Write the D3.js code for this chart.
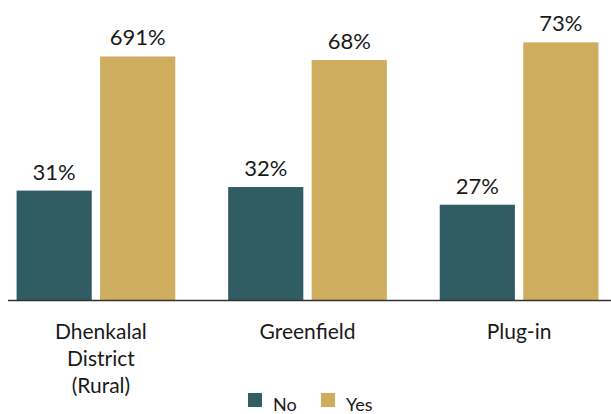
<!DOCTYPE html>
<html>
<head>
<meta charset="utf-8">
<script src="https://cdn.jsdelivr.net/npm/d3@7"></script>
<style>
  html, body { margin: 0; padding: 0; background: #fff; }
  svg { display: block; font-family: Lato, "Open Sans", sans-serif; }
</style>
</head>
<body>
<svg id="chart" width="611" height="414"></svg>
<script>
// Survey answers per site, in percent
const categories = [["Dhenkalal", "District", "(Rural)"], ["Greenfield"], ["Plug-in"]];
const seriesNames = ["No", "Yes"];
const noValues = [31, 32, 27];
const yesValues = [69, 68, 73];
const noLabels = ["31%", "32%", "27%"];
const yesLabels = ["691%", "68%", "73%"];
const colors = ["#305c63", "#cfad5e"];

const svg = d3.select("#chart");
const baseline = 300;

const x0 = d3.scaleBand()
  .domain(d3.range(categories.length))
  .range([6, 609])
  .paddingInner(0.25)
  .paddingOuter(0.05);

const x1 = d3.scaleBand()
  .domain(seriesNames)
  .range([0, x0.bandwidth()])
  .paddingInner(0.1);

const y = d3.scaleLinear().domain([0, 85]).range([baseline, 0]);

const color = d3.scaleOrdinal().domain(seriesNames).range(colors);

const rows = categories.map((c, i) => ({
  idx: i,
  bars: [
    { key: "No", value: noValues[i], label: noLabels[i] },
    { key: "Yes", value: yesValues[i], label: yesLabels[i] }
  ]
}));

const groups = svg.selectAll("g.group")
  .data(rows)
  .join("g")
  .attr("class", "group")
  .attr("transform", d => `translate(${x0(d.idx)},0)`);

groups.selectAll("rect")
  .data(d => d.bars)
  .join("rect")
  .attr("x", d => x1(d.key))
  .attr("y", d => y(d.value))
  .attr("width", x1.bandwidth())
  .attr("height", d => baseline - y(d.value))
  .attr("fill", d => color(d.key));

groups.selectAll("text.value")
  .data(d => d.bars)
  .join("text")
  .attr("class", "value")
  .attr("x", d => x1(d.key) + x1.bandwidth() / 2)
  .attr("y", d => y(d.value) - 11)
  .attr("text-anchor", "middle")
  .attr("font-size", 22)
  .attr("fill", "#1a1a1a")
  .text(d => d.label);

// Baseline axis with category names underneath
svg.append("line")
  .attr("x1", 8).attr("x2", 611)
  .attr("y1", baseline + 0.5).attr("y2", baseline + 0.5)
  .attr("stroke", "#333")
  .attr("stroke-width", 1.5);

const catText = svg.selectAll("text.cat")
  .data(categories)
  .join("text")
  .attr("class", "cat")
  .attr("text-anchor", "middle")
  .attr("font-size", 21)
  .attr("fill", "#1a1a1a")
  .attr("x", (d, i) => x0(i) + x0.bandwidth() / 2 + (d.length > 1 ? 5 : 0))
  .attr("y", 339);

catText.selectAll("tspan")
  .data(d => d)
  .join("tspan")
  .attr("x", function () { return d3.select(this.parentNode).attr("x"); })
  .attr("dy", (d, i) => i === 0 ? 0 : 27)
  .text(d => d);

// Legend
const legend = svg.append("g").attr("transform", "translate(248,393)");
const legendItems = legend.selectAll("g")
  .data(seriesNames)
  .join("g")
  .attr("transform", (d, i) => `translate(${i * 73},0)`);
legendItems.append("rect")
  .attr("width", 14).attr("height", 14)
  .attr("fill", d => color(d));
legendItems.append("text")
  .attr("x", 25).attr("y", 18)
  .attr("font-size", 18)
  .attr("fill", "#1a1a1a")
  .text(d => d);
</script>
</body>
</html>
